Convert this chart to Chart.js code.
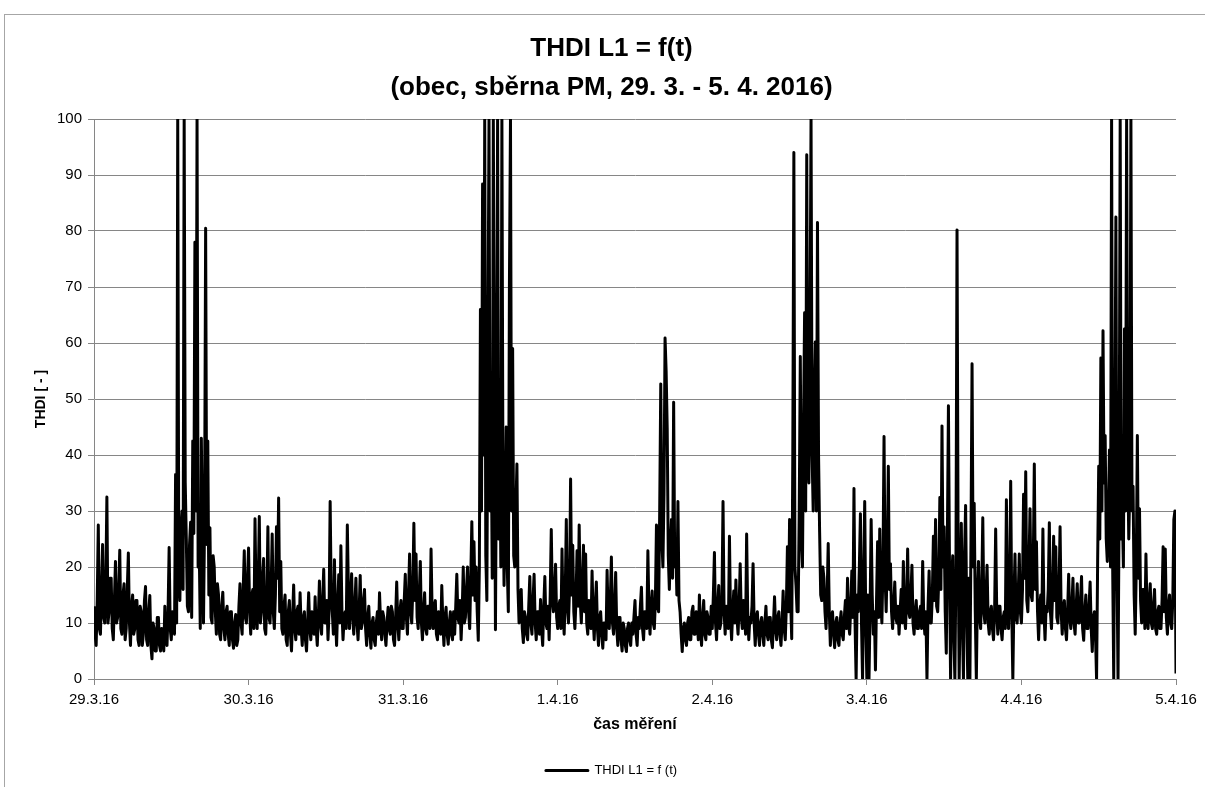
<!DOCTYPE html>
<html>
<head>
<meta charset="utf-8">
<title>THDI L1 = f(t)</title>
<script src="https://cdn.jsdelivr.net/npm/chart.js@4.4.1/dist/chart.umd.min.js"></script>
<style>
  html, body { margin: 0; padding: 0; background: #fff; overflow: hidden; }
  #frame { position: absolute; left: 4px; top: 14px; width: 1300px; height: 900px; border: 1px solid #a6a6a6; }
  #wrap { position: absolute; left: 0; top: 0; width: 1205px; height: 787px; }
</style>
</head>
<body>
<div id="frame"></div>
<div id="wrap"><canvas id="chart_thdi" width="1205" height="787"></canvas></div>
<script>
var fontFamily = '"Liberation Sans", Arial, sans-serif';

// osa x - dny mereni
var dayLabels = ['29.3.16', '30.3.16', '31.3.16', '1.4.16', '2.4.16', '3.4.16', '4.4.16', '5.4.16'];
var samplesPerDay = 144; // 10 min interval

// THDI L1 po dnech, 1 radek = 4 hodiny
var day1 = [
  13, 8, 6, 14, 27.5, 9, 8, 16, 24, 11, 10, 17, 32.5, 10, 12, 18, 18, 9, 7, 14, 21, 10, 11, 16,
  23, 9, 8, 15, 17, 7, 9, 16, 22.5, 10, 6, 13, 15, 8, 9, 14, 14, 7, 6, 13, 12, 6, 8, 14,
  16.5, 7, 6, 12, 14.9, 6, 3.6, 10, 9, 5, 5, 11, 11, 6, 5, 9, 8, 5, 13, 7, 6, 12, 23.5, 9,
  7, 12, 11, 8, 36.5, 10, 100, 18, 14, 27, 30, 16, 100, 35, 25, 13, 12, 24, 28, 11, 42.5, 26, 78, 30,
  100, 20, 24, 9, 43, 25, 10, 28, 80.5, 24, 42.5, 15, 27, 11, 10, 22, 20, 12, 8, 17, 15, 8, 7, 13,
  15.5, 9, 7, 12, 13, 8, 6, 12, 12, 7, 5.5, 10, 11.5, 6, 7, 13, 17, 10, 8, 16, 22.9, 11, 10, 18
];
var day2 = [
  23.4, 12, 8, 15, 16, 9, 28.6, 14, 9, 17, 29, 10, 12, 18, 21.5, 9, 8, 14, 27.2, 11, 10, 16, 25.9, 12,
  9, 15, 27.2, 18, 32.3, 12, 21, 9, 8, 13, 15, 7, 6, 12, 14, 8, 5, 11, 16.8, 9, 7, 12, 13, 8,
  15.4, 9, 6, 11, 12, 7, 5, 10, 15.4, 9, 7, 12, 11, 8, 14.7, 9, 6, 11, 17.5, 10, 8, 14, 19.6, 10,
  10, 14, 7, 12, 31.7, 15, 12, 8, 21.3, 11, 6, 13, 18.6, 10, 23.8, 12, 7, 11, 12, 9, 27.5, 16, 9, 14,
  18.8, 11, 8, 13, 18, 10, 7, 12, 18.5, 9, 10, 14, 16, 9, 6, 11, 13, 8, 5.5, 10, 11, 7, 6, 10,
  12, 8, 15.4, 10, 7, 12, 11, 8, 6, 10, 12.8, 9, 8, 13, 12, 7, 6, 11, 17.3, 10, 7, 12, 14, 9
];
var day3 = [
  9, 14, 18.7, 11, 8, 15, 22.3, 12, 10, 16, 27.8, 14, 22.3, 11, 9, 15, 21, 10, 7, 12, 15.4, 9, 8, 13,
  13, 9, 23.2, 12, 9, 13, 14, 8, 7, 12, 11, 8, 16.7, 10, 6, 11, 12.8, 8, 6.2, 10, 12, 8, 7, 12,
  8, 13, 18.7, 11, 10, 14, 7, 12, 20, 10, 11, 16, 20, 12, 9, 18, 28.1, 15, 24.5, 14, 20, 12, 6.9, 20,
  66, 30, 88.4, 40, 100, 22, 14, 60, 100, 30, 46, 18, 100, 50, 8.8, 45, 100, 25, 47, 20, 100, 35, 16.7, 30,
  45, 20, 12, 70, 100, 30, 59, 22, 20, 30, 38.4, 16, 10, 14, 16, 9, 6.5, 12, 11, 8, 7, 13, 18.3, 10,
  8, 14, 18.7, 10, 7, 12, 12, 8, 14.2, 9, 6, 13, 18.3, 10, 9, 13, 7, 15, 26.7, 14, 12, 16, 20.5, 11
];
var day4 = [
  9, 13, 14, 9, 23.2, 12, 8, 15, 28.5, 13, 10, 16, 35.7, 15, 23.9, 12, 9, 14, 22.9, 13, 27.5, 14, 10, 17,
  23.9, 12, 22.3, 10, 8, 14, 12, 9, 19.3, 11, 7, 13, 17.3, 9, 6, 11, 12, 8, 5.5, 10, 10, 7, 19.4, 11,
  9, 14, 21.8, 10, 8, 13, 19, 9, 6, 11, 11, 7, 5, 10, 9, 6, 4.9, 9, 10, 7, 6, 10, 8, 11,
  14, 8, 6, 11, 9, 13, 16.4, 9, 7, 12, 12, 9, 22.9, 12, 8, 13, 15.7, 10, 9, 14, 27.5, 13, 12, 30,
  52.7, 25, 20, 33, 60.9, 55, 44.8, 22, 16, 24, 28.5, 18, 49.4, 20, 23.6, 15, 31.7, 14, 12, 8, 4.9, 9, 10, 7,
  6, 10, 11, 7, 7, 12, 13, 8, 8, 12, 10, 7, 15, 9, 6, 11, 14, 8, 7, 12, 11, 8, 8, 13
];
var day5 = [
  9, 15, 22.6, 10, 7, 13, 16.7, 9, 10, 14, 31.7, 12, 8, 13, 12, 9, 25.5, 11, 7, 12, 15.7, 10, 17.7, 11,
  8, 13, 20.6, 11, 9, 14, 12, 8, 25.9, 12, 7, 11, 10, 13, 20.6, 10, 6, 11, 12, 8, 6, 10, 11, 8,
  6, 10, 13, 8, 7, 11, 11, 7, 5.6, 10, 14.7, 9, 7, 11, 12, 8, 6, 10, 15.7, 9, 7, 13, 23.6, 12,
  28.5, 14, 7.2, 40, 94, 20, 16.7, 12, 12, 30, 57.6, 25, 20, 45, 65.4, 30, 93.6, 40, 35, 60, 100, 40, 30, 50,
  60.2, 30, 81.5, 40, 26.2, 15, 14, 20, 18, 12, 9, 15, 24.2, 12, 6, 11, 12, 8, 5.6, 10, 11, 7, 6, 10,
  12, 8, 7, 11, 14, 9, 18, 10, 8, 13, 19.3, 11, 34, 10, 0, 15, 12, 20, 29.5, 10, 0, 18, 31.7, 10
];
var day6 = [
  0, 15, 0, 12, 28.5, 15, 8, 12, 1.6, 14, 24.5, 11, 26.8, 14, 10, 20, 43.3, 18, 12, 22, 38, 16, 20.6, 12,
  9, 13, 17.3, 11, 10, 13, 8, 12, 16, 10, 21, 11, 9, 14, 23.2, 12, 11, 15, 20.3, 10, 8, 12, 14, 9,
  9, 12, 13, 9, 21, 11, 8, 12, 0, 13, 19.3, 10, 10, 15, 25.5, 14, 28.5, 13, 12, 18, 32.4, 16, 45.2, 20,
  27.2, 12, 4.6, 25, 48.8, 20, 0, 18, 22, 8, 0, 20, 80.2, 25, 0, 15, 27.8, 10, 0, 22, 31, 12, 0, 18,
  0, 25, 56.3, 20, 31.4, 12, 0, 15, 21, 11, 9, 16, 28.8, 12, 10, 15, 20.3, 10, 8, 12, 13, 9, 7, 12,
  26.8, 12, 8, 13, 13, 9, 7, 11, 12, 9, 32, 14, 9, 15, 35.3, 12, 0, 14, 22.3, 11, 10, 15, 22.3, 12
];
var day7 = [
  10, 16, 33, 18, 37, 14, 12, 20, 30.4, 15, 14, 20, 38.4, 16, 24.5, 12, 7, 13, 15, 10, 26.8, 12, 7, 13,
  12, 16, 27.9, 12, 9, 15, 25.5, 14, 23.6, 11, 10, 16, 27.2, 12, 8, 13, 14, 9, 7, 12, 18.7, 11, 9, 13,
  18, 10, 8, 13, 17, 10, 10, 14, 18.3, 9, 6.9, 12, 15, 9, 9, 13, 17.3, 9, 4.9, 11, 12, 8, 0, 21,
  38, 25, 57.3, 30, 62.2, 35, 43.5, 25, 21, 30, 40.9, 20, 100, 20, 0, 40, 82.5, 20, 0, 30, 100, 25, 30, 20,
  62.5, 30, 100, 40, 25, 35, 100, 30, 34.4, 15, 8, 20, 43.5, 18, 30.4, 14, 10, 16, 16, 9, 22.3, 12, 9, 14,
  17, 10, 9, 13, 16, 9, 8, 12, 13, 9, 9, 14, 23.6, 12, 23.2, 11, 8, 13, 15, 10, 9, 14, 28.5, 30
];
var lastSample = [1];

var thdi = day1.concat(day2, day3, day4, day5, day6, day7, lastSample);
var thdi_points = thdi.map(function (v, i) {
  return { x: i / samplesPerDay, y: v };
});

var ctx_thdi = document.getElementById('chart_thdi').getContext('2d');
var chartThdi = new Chart(ctx_thdi, {
  type: 'line',
  data: {
    datasets: [{
      label: 'THDI L1 = f (t)',
      data: thdi_points,
      borderColor: '#000',
      backgroundColor: '#000',
      borderWidth: 3,
      borderJoinStyle: 'round',
      pointRadius: 0,
      tension: 0,
      fill: false
    }]
  },
  options: {
    responsive: false,
    animation: false,
    layout: {
      padding: { left: 47, right: 29, top: 0, bottom: 0 }
    },
    plugins: {
      title: {
        display: true,
        text: ['THDI L1 = f(t)', '(obec, sběrna PM, 29. 3. - 5. 4. 2016)'],
        color: '#000',
        font: { family: fontFamily, size: 26, weight: 'bold', lineHeight: 1.5 },
        padding: { top: 29.5, bottom: 11.5 }
      },
      legend: {
        position: 'bottom',
        labels: {
          color: '#000',
          font: { family: fontFamily, size: 13 },
          boxWidth: 42,
          boxHeight: 0,
          padding: 0
        }
      },
      tooltip: { enabled: false }
    },
    scales: {
      x: {
        type: 'linear',
        min: 0,
        max: 7,
        afterFit: function (scale) { scale.height = 85; },
        ticks: {
          stepSize: 1,
          autoSkip: false,
          maxRotation: 0,
          padding: 6,
          color: '#000',
          font: { family: fontFamily, size: 15 },
          callback: function (value) { return dayLabels[value]; }
        },
        grid: { drawOnChartArea: false, tickLength: 6, color: '#868686' },
        border: { color: '#868686' },
        title: {
          display: true,
          text: 'čas měření',
          color: '#000',
          font: { family: fontFamily, size: 16, weight: 'bold' },
          padding: { top: 4, bottom: 29.4 }
        }
      },
      y: {
        min: 0,
        max: 100,
        afterFit: function (scale) { scale.width = 47; },
        ticks: {
          stepSize: 10,
          padding: 6,
          color: '#000',
          font: { family: fontFamily, size: 15 }
        },
        grid: { color: '#868686', tickLength: 6 },
        border: { color: '#868686' },
        title: {
          display: true,
          text: 'THDI [ - ]',
          color: '#000',
          font: { family: fontFamily, size: 14, weight: 'bold' },
          padding: { top: -14.4, bottom: 4 }
        }
      }
    }
  }
});
</script>
</body>
</html>
